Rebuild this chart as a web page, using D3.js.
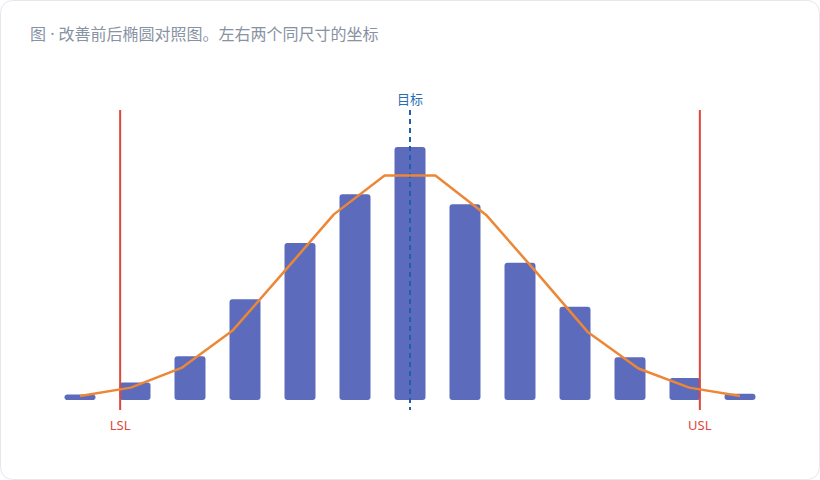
<!DOCTYPE html>
<html>
<head>
<meta charset="utf-8">
<script src="https://cdn.jsdelivr.net/npm/d3@7"></script>
<style>
  html, body { margin: 0; padding: 0; background: #fff; }
  svg { display: block; font-family: "Noto Sans", "Noto Sans CJK SC", sans-serif; }
</style>
</head>
<body>
<div id="chart"></div>
<script>
// histogram bins (index labels) and counts
const bins = ["1", "2", "3", "4", "5", "6", "7", "8", "9", "10", "11", "12", "13"];
const counts = [1, 3.1, 7.8, 17.9, 27.9, 36.6, 45, 34.8, 24.4, 16.6, 7.6, 3.9, 1.1];

// fitted curve, 14 points spread over the first..last bin centre
const curve = [0.7, 2.2, 5.7, 12.3, 22.6, 33.0, 39.9, 39.9, 32.9, 22.6, 12.1, 5.6, 2.2, 0.7];

// spec limits and target, in bin-index units (0 = first bin centre)
const limits = [
  {name: "LSL", value: 0.73},
  {name: "USL", value: 11.27}
];
const target = {name: "目标", value: 6};

const title = "图 · 改善前后椭圆对照图。左右两个同尺寸的坐标";

const W = 820, H = 480;

const svg = d3.select("#chart")
  .append("svg")
  .attr("width", W)
  .attr("height", H);

// card
svg.append("rect")
  .attr("x", 0.5).attr("y", 0.5)
  .attr("width", W - 1).attr("height", H - 1)
  .attr("rx", 12)
  .attr("fill", "#fff")
  .attr("stroke", "#e3e8ef");

svg.append("text")
  .attr("x", 30).attr("y", 40)
  .attr("font-size", 16)
  .attr("fill", "#8792a2")
  .text(title);

// scales
const x = d3.scaleBand()
  .domain(bins)
  .range([52.5, 767.5])
  .paddingInner(0.4364)
  .paddingOuter(0.2182);

const xIdx = d3.scaleLinear()
  .domain([0, bins.length - 1])
  .range([x(bins[0]) + x.bandwidth() / 2, x(bins[bins.length - 1]) + x.bandwidth() / 2]);

const xCurve = d3.scaleLinear()
  .domain([0, curve.length - 1])
  .range(xIdx.range());

const y = d3.scaleLinear().domain([0, 48]).range([400, 130]);

// bars
svg.append("g")
  .selectAll("rect")
  .data(counts)
  .join("rect")
  .attr("x", (d, i) => x(bins[i]))
  .attr("y", d => y(d))
  .attr("width", x.bandwidth())
  .attr("height", d => y(0) - y(d))
  .attr("rx", 3)
  .attr("fill", "#5c6bbb");

// target line
svg.append("line")
  .attr("x1", xIdx(target.value)).attr("x2", xIdx(target.value))
  .attr("y1", 110).attr("y2", 410)
  .attr("stroke", "#1f5fae")
  .attr("stroke-width", 2)
  .attr("stroke-dasharray", "5,4");

svg.append("text")
  .attr("x", xIdx(target.value)).attr("y", 104)
  .attr("text-anchor", "middle")
  .attr("font-size", 13)
  .attr("fill", "#2a6cb8")
  .text(target.name);

// spec limits
const lim = svg.append("g").selectAll("g").data(limits).join("g");
lim.append("line")
  .attr("x1", d => xIdx(d.value)).attr("x2", d => xIdx(d.value))
  .attr("y1", 110).attr("y2", 410)
  .attr("stroke", "#e0463c")
  .attr("stroke-width", 2);
lim.append("text")
  .attr("x", d => xIdx(d.value)).attr("y", 430)
  .attr("text-anchor", "middle")
  .attr("font-size", 13)
  .attr("fill", "#e0463c")
  .text(d => d.name);

// fitted curve
const line = d3.line()
  .x((d, i) => xCurve(i))
  .y(d => y(d));

svg.append("path")
  .datum(curve)
  .attr("d", line)
  .attr("fill", "none")
  .attr("stroke", "#ec8737")
  .attr("stroke-width", 2.5)
  .attr("stroke-linejoin", "round");
</script>
</body>
</html>
